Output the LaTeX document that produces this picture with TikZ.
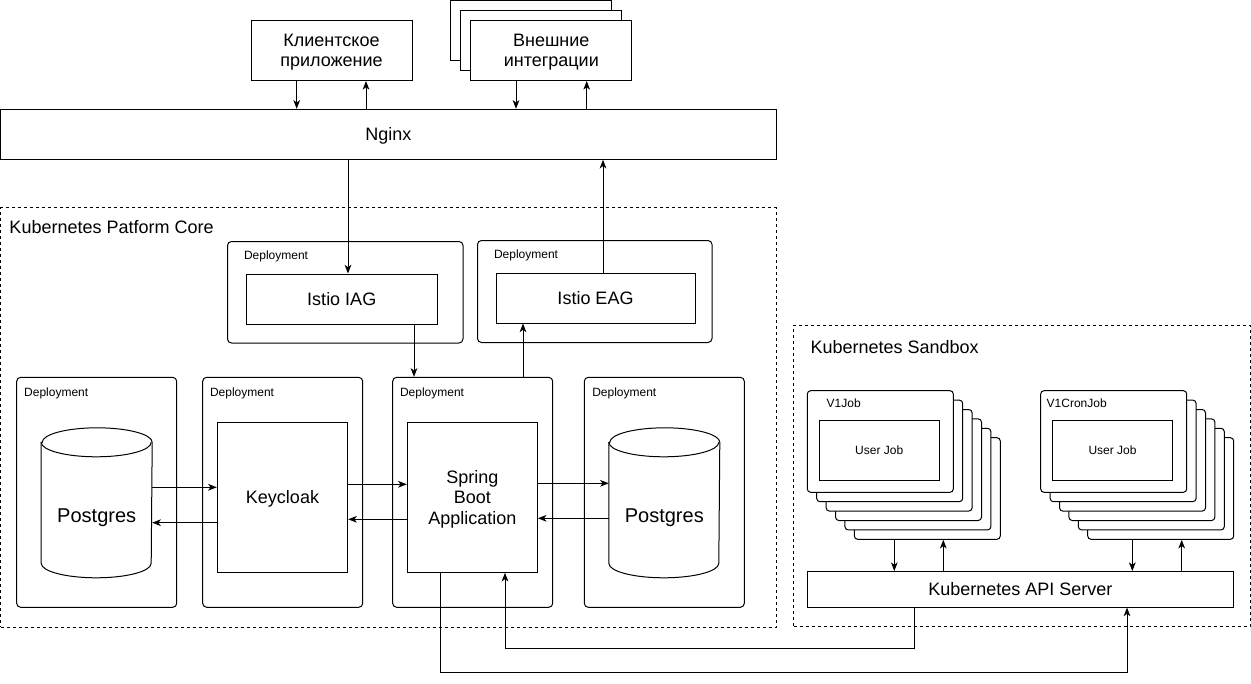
\documentclass[tikz,border=0pt]{standalone}
\usepackage{fontspec}
\setmainfont{Liberation Sans}
\usetikzlibrary{arrows.meta}

\newdimen\pxl \pxl=0.75pt
\newcommand\drawdb[1]{%
  \draw[fill=white] ([yshift=-14.5\pxl]#1.north west) -- ([yshift=14.5\pxl]#1.south west)
    arc[start angle=180, end angle=360, x radius=55\pxl, y radius=14.5\pxl]
    -- ([yshift=-14.5\pxl]#1.north east)
    arc[start angle=0, end angle=180, x radius=55\pxl, y radius=14.5\pxl] -- cycle;
  \draw ([yshift=-14.5\pxl]#1.north west)
    arc[start angle=180, end angle=360, x radius=55\pxl, y radius=14.5\pxl];
}

\begin{document}
\begin{tikzpicture}[x=0.75pt, y=-0.75pt, line width=0.75pt,
  wh/.style 2 args={minimum width=#1\pxl, minimum height=#2\pxl},
  box/.style={draw, fill=white, inner sep=0pt, align=center, text depth=0pt,
    font=\fontsize{13.5}{15}\selectfont},
  deploy/.style={draw, fill=white, rounded corners=3pt, inner sep=0pt},
  frame/.style={draw, dash pattern=on 2.25pt off 2.25pt, inner sep=0pt},
  stackbox/.style={draw, fill=white, rounded corners=2.5pt, inner sep=0pt, wh={146}{101.6}},
  db/.style={inner sep=0pt, wh={110}{149}},
  tag/.style={inner sep=0pt, anchor=west, text depth=0pt, font=\fontsize{9}{11}\selectfont},
  title/.style={inner sep=0pt, anchor=west, font=\fontsize{13.5}{15.5}\selectfont},
  arr/.style={-{Stealth[length=6.5pt, width=5pt, inset=1.8pt]}}]
  \useasboundingbox (0,0) rectangle (1251,684);

  \node[frame, wh={775.5}{419}] (core) at (388.25,417.5) {};
  \node[title] (coretitle) at ([xshift=9\pxl, yshift=-20\pxl]core.north west) {Kubernetes Patform Core};
  \node[frame, wh={456.5}{301}] (sandbox) at (1021.75,475.5) {};
  \node[title] (sandboxtitle) at ([xshift=17\pxl, yshift=-22.7\pxl]sandbox.north west) {Kubernetes Sandbox};

  \node[box, wh={161}{60}] (client) at (331.5,50.5) {Клиентское\\приложение};
  \node[box, wh={160.7}{60}] (ext2) at (531.3,30.5) {};
  \node[box, wh={160.7}{60}] (ext1) at (541.3,40.5) {};
  \node[box, wh={160.7}{60}] (ext0) at (551.3,50.5) {Внешние\\интеграции};
  \node[box, wh={775.5}{50}] (nginx) at (388.3,134.3) {Nginx};

  \node[deploy, wh={235.5}{101.5}] (depiag) at (345.25,292.25) {};
  \node[tag] at ([xshift=16.5\pxl, yshift=-14\pxl]depiag.north west) {Deployment};
  \node[box, wh={190.5}{50}] (iag) at (341.75,299) {Istio IAG};
  \node[deploy, wh={234.5}{102}] (depeag) at (594.75,291.5) {};
  \node[tag] at ([xshift=16.5\pxl, yshift=-14.3\pxl]depeag.north west) {Deployment};
  \node[box, wh={199}{50}] (eag) at (595.5,298) {Istio EAG};

  \node[deploy, wh={160}{230}] (dep1) at (96.7,492.3) {};
  \node[tag] at ([xshift=7.5\pxl, yshift=-14.9\pxl]dep1.north west) {Deployment};
  \node[deploy, wh={160}{230}] (dep2) at (282.7,492.3) {};
  \node[tag] at ([xshift=7.3\pxl, yshift=-14.9\pxl]dep2.north west) {Deployment};
  \node[deploy, wh={160}{230}] (dep3) at (472.7,492.3) {};
  \node[tag] at ([xshift=7.3\pxl, yshift=-14.9\pxl]dep3.north west) {Deployment};
  \node[deploy, wh={160}{230}] (dep4) at (664.3,492.3) {};
  \node[tag] at ([xshift=8\pxl, yshift=-14.9\pxl]dep4.north west) {Deployment};

  \node[db] (pgauth) at (96.7,502.8) {};
  \drawdb{pgauth}
  \node[font=\fontsize{15}{17}\selectfont] at ([yshift=-14.5\pxl]pgauth.center) {Postgres};
  \node[box, wh={130.4}{150}] (keycloak) at (282.5,497.3) {Keycloak};
  \node[box, wh={130}{150}, text depth=-0.8pt, font=\fontsize{13.5}{15.6}\selectfont] (spring) at (472.3,497.3) {Spring\\Boot\\Application};
  \node[db] (pgapp) at (664.3,502.8) {};
  \drawdb{pgapp}
  \node[font=\fontsize{15}{17}\selectfont] at ([yshift=-14.5\pxl]pgapp.center) {Postgres};

  \foreach \i in {5,...,0} {
    \node[stackbox] (job\i) at (880.3+9.4*\i,441.5+9.4*\i) {};
    \node[stackbox] (cron\i) at (1113.7+9.4*\i,441.5+9.4*\i) {};
  }
  \node[tag] at ([xshift=19.4\pxl, yshift=-12.6\pxl]job0.north west) {V1Job};
  \node[box, wh={120.3}{60}, font=\fontsize{9}{11}\selectfont] (ujob) at (879.2,450) {User Job};
  \node[tag] at ([xshift=6\pxl, yshift=-12.6\pxl]cron0.north west) {V1CronJob};
  \node[box, wh={120.4}{60}, font=\fontsize{9}{11}\selectfont] (ucron) at (1112.5,450) {User Job};
  \node[box, wh={426}{35.5}] (api) at (1020.3,589.3) {Kubernetes API Server};

  \draw[arr] ([xshift=-34.8\pxl]client.south) -- ([xshift=-34.8\pxl]client.south |- nginx.north);
  \draw[arr] ([xshift=34.5\pxl]client.south |- nginx.north) -- ([xshift=34.5\pxl]client.south);
  \draw[arr] ([xshift=-35.3\pxl]ext0.south) -- ([xshift=-35.3\pxl]ext0.south |- nginx.north);
  \draw[arr] ([xshift=35.4\pxl]ext0.south |- nginx.north) -- ([xshift=35.4\pxl]ext0.south);
  \draw[arr] ([xshift=6.25\pxl]iag.north |- nginx.south) -- ([xshift=6.25\pxl]iag.north);
  \draw[arr] ([xshift=7.5\pxl]eag.north) -- ([xshift=7.5\pxl]eag.north |- nginx.south);
  \draw[arr] ([xshift=72.25\pxl]iag.south) -- ([xshift=72.25\pxl]iag.south |- dep3.north);
  \draw[arr] ([xshift=-72.5\pxl]eag.south |- dep3.north) -- ([xshift=-72.5\pxl]eag.south);

  \draw[arr] ([yshift=15.5\pxl]pgauth.east) -- ([yshift=10\pxl]keycloak.west);
  \draw[arr] ([yshift=-25.4\pxl]keycloak.west) -- ([yshift=-19.9\pxl]pgauth.east);
  \draw[arr] ([yshift=13\pxl]keycloak.east) -- ([yshift=13\pxl]spring.west);
  \draw[arr] ([yshift=-22\pxl]spring.west) -- ([yshift=-22\pxl]keycloak.east);
  \draw[arr] ([yshift=14\pxl]spring.east) -- ([yshift=19.5\pxl]pgapp.west);
  \draw[arr] ([yshift=-15.5\pxl]pgapp.west) -- ([yshift=-21\pxl]spring.east);

  \draw[arr] ([xshift=-33\pxl]job5.south) -- ([xshift=-33\pxl]job5.south |- api.north);
  \draw[arr] ([xshift=16\pxl]job5.south |- api.north) -- ([xshift=16\pxl]job5.south);
  \draw[arr] ([xshift=-28.4\pxl]cron5.south) -- ([xshift=-28.4\pxl]cron5.south |- api.north);
  \draw[arr] ([xshift=21\pxl]cron5.south |- api.north) -- ([xshift=21\pxl]cron5.south);

  \draw[arr] ([xshift=-32.3\pxl]spring.south) -- ++(0,99.7) -| ([xshift=106.7\pxl]api.south);
  \draw[arr] ([xshift=-106.3\pxl]api.south) -- ++(0,40.5) -| ([xshift=32.7\pxl]spring.south);
\end{tikzpicture}
\end{document}
